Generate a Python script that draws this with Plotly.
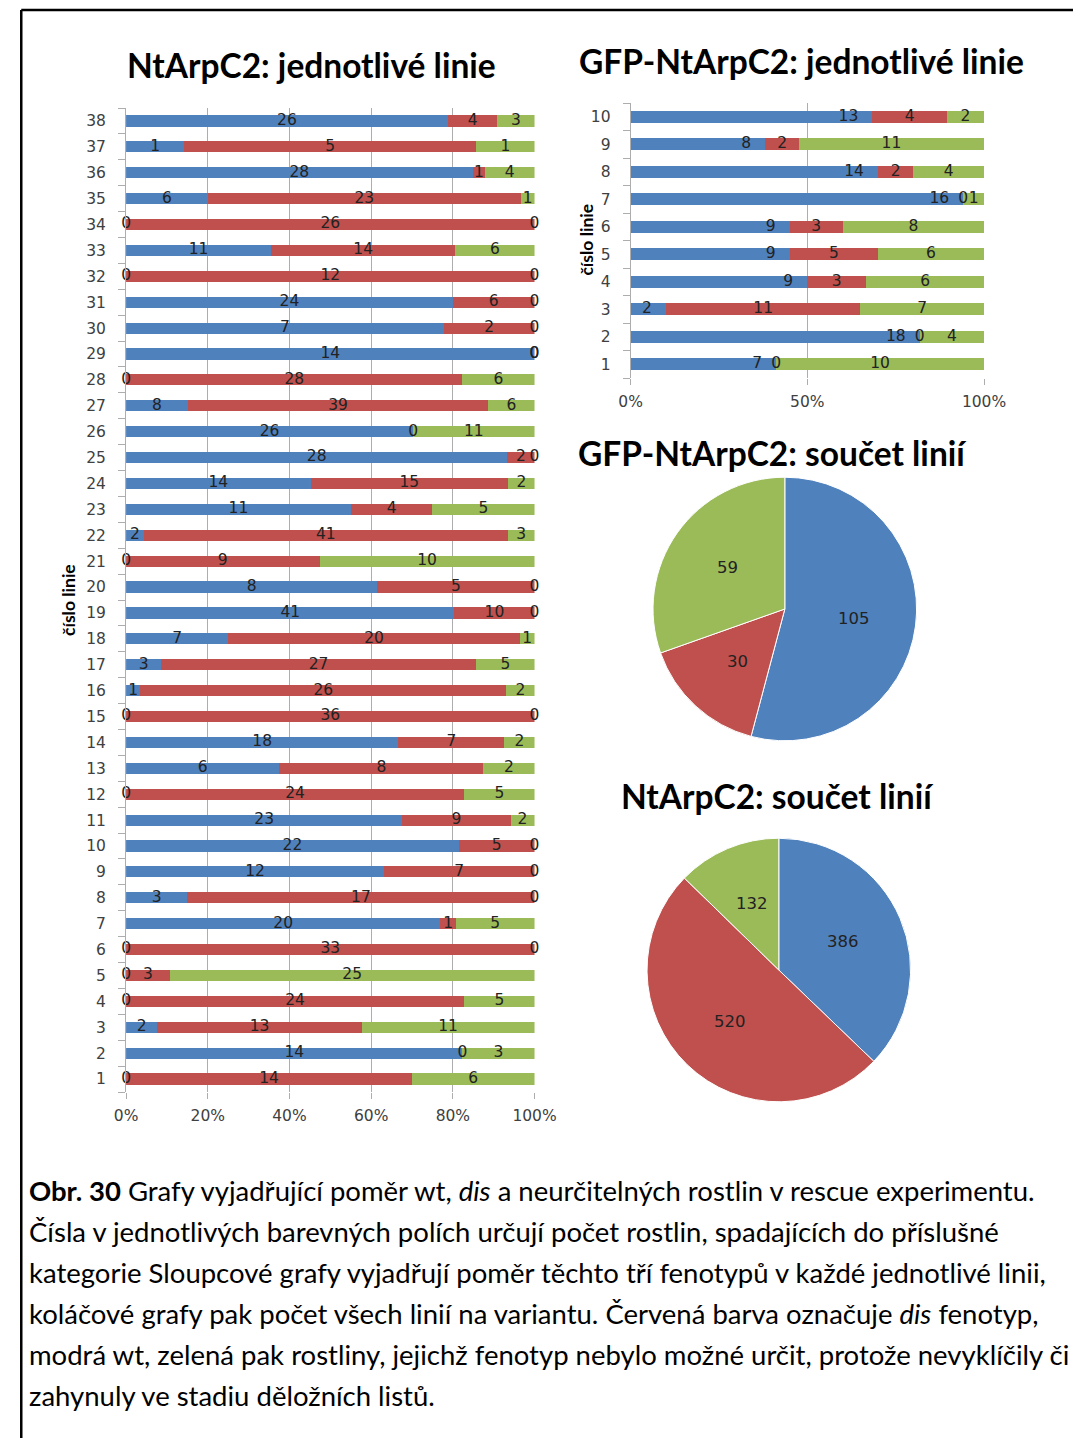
import plotly.graph_objects as go
import numpy as np

# Empirical mapping from page pixels to the photographed picture:
# picture_x = 12.3 + 0.968 * page_x ; picture_y ~ page_y ; body margin = 8.
SX, OXP, BODY = 0.968, 12.3, 8
W, H = 1100, 1436

BLUE = "#4F81BD"
RED = "#C0504D"
GREEN = "#9BBB59"
GRID = "#ADADAD"
TXT = "#222222"
TICK = "#404040"

# ---------------- data ----------------
nt_lines = [str(i) for i in range(1, 39)]
nt_wt = [0, 14, 2, 0, 0, 0, 20, 3, 12, 22, 23, 0, 6, 18, 0, 1, 3, 7, 41, 8,
         0, 2, 11, 14, 28, 26, 8, 0, 14, 7, 24, 0, 11, 0, 6, 28, 1, 26]
nt_dis = [14, 0, 13, 24, 3, 33, 1, 17, 7, 5, 9, 24, 8, 7, 36, 26, 27, 20, 10, 5,
          9, 41, 4, 15, 2, 0, 39, 28, 0, 2, 6, 12, 14, 26, 23, 1, 5, 4]
nt_und = [6, 3, 11, 5, 25, 0, 5, 0, 0, 0, 2, 5, 2, 2, 0, 2, 5, 1, 0, 0,
          10, 3, 5, 2, 0, 11, 6, 6, 0, 0, 0, 0, 6, 0, 1, 4, 1, 3]

gfp_lines = [str(i) for i in range(1, 11)]
gfp_wt = [7, 18, 2, 9, 9, 9, 16, 14, 8, 13]
gfp_dis = [0, 0, 11, 3, 5, 3, 0, 2, 2, 4]
gfp_und = [10, 4, 7, 6, 6, 8, 1, 4, 11, 2]

pie_labels = ["wt", "dis", "neurčitelné"]
gfp_pie = [105, 30, 59]
nt_pie = [386, 520, 132]

x_ticks_left = ["0%", "20%", "40%", "60%", "80%", "100%"]
x_ticks_right = ["0%", "50%", "100%"]

caption = [
    "<b>Obr. 30</b> Grafy vyjadřující poměr wt, <i>dis</i> a neurčitelných rostlin v rescue experimentu.",
    "Čísla v jednotlivých barevných polích určují počet rostlin, spadajících do příslušné",
    "kategorie Sloupcové grafy vyjadřují poměr těchto tří fenotypů v každé jednotlivé linii,",
    "koláčové grafy pak počet všech linií na variantu. Červená barva označuje <i>dis</i> fenotyp,",
    "modrá wt, zelená pak rostliny, jejichž fenotyp nebylo možné určit, protože nevyklíčily či",
    "zahynuly ve stadiu děložních listů.",
]


def fx(x):  # target picture x -> figure px
    return (x - OXP) / SX - BODY


def fy(y):  # target picture y -> figure px (from top)
    return y - BODY


def px(x):
    return fx(x) / W


def py(y):
    return 1 - fy(y) / H


def segs(a, b, c):
    a, b, c = (np.array(v, dtype=float) for v in (a, b, c))
    t = a + b + c
    sa, sb, sc = a / t * 100, b / t * 100, c / t * 100
    return [(0 * sa, sa), (sa, sa + sb), (sa + sb, sa + sb + sc)]


fig = go.Figure()

LBL_FONT = dict(family="DejaVu Sans", size=15.5, color=TXT)

# ---------------- left stacked bars ----------------
for vals, col in ((nt_wt, BLUE), (nt_dis, RED), (nt_und, GREEN)):
    fig.add_trace(go.Bar(y=nt_lines, x=vals, orientation="h", marker_color=col,
                         marker_line_width=0, xaxis="x", yaxis="y",
                         hoverinfo="skip", showlegend=False))
for (s, e), vals in zip(segs(nt_wt, nt_dis, nt_und), (nt_wt, nt_dis, nt_und)):
    fig.add_trace(go.Scatter(x=(s + e) / 2, y=nt_lines, mode="text",
                             text=[str(v) for v in vals], textfont=LBL_FONT,
                             textposition="middle center", cliponaxis=False,
                             xaxis="x", yaxis="y", hoverinfo="skip", showlegend=False))

# ---------------- right stacked bars ----------------
for vals, col in ((gfp_wt, BLUE), (gfp_dis, RED), (gfp_und, GREEN)):
    fig.add_trace(go.Bar(y=gfp_lines, x=vals, orientation="h", marker_color=col,
                         marker_line_width=0, xaxis="x2", yaxis="y2",
                         hoverinfo="skip", showlegend=False))
gs = segs(gfp_wt, gfp_dis, gfp_und)
# wt labels: inside end
fig.add_trace(go.Scatter(x=gs[0][1] - 4, y=gfp_lines, mode="text",
                         text=[str(v) for v in gfp_wt], textfont=LBL_FONT,
                         textposition="middle left", cliponaxis=False,
                         xaxis="x2", yaxis="y2", hoverinfo="skip", showlegend=False))
for (s, e), vals in zip(gs[1:], (gfp_dis, gfp_und)):
    fig.add_trace(go.Scatter(x=(s + e) / 2, y=gfp_lines, mode="text",
                             text=[str(v) for v in vals], textfont=LBL_FONT,
                             textposition="middle center", cliponaxis=False,
                             xaxis="x2", yaxis="y2", hoverinfo="skip", showlegend=False))

# ---------------- pies ----------------
R = 136
LR = 0.53  # label radius as a fraction of the pie radius
for vals, cx, cy in ((gfp_pie, 784, 609), (nt_pie, 778, 970)):
    cfx, cfy = fx(cx), fy(cy)
    fig.add_trace(go.Pie(values=vals, labels=pie_labels, sort=False,
                         direction="clockwise", rotation=0,
                         marker=dict(colors=[BLUE, RED, GREEN],
                                     line=dict(color="white", width=1)),
                         textinfo="none",
                         domain=dict(x=[(cfx - R) / W, (cfx + R) / W],
                                     y=[1 - (cfy + R) / H, 1 - (cfy - R) / H]),
                         hoverinfo="skip", showlegend=False))
    v = np.array(vals, dtype=float)
    mids = (np.cumsum(v) - v / 2) / v.sum() * 2 * np.pi  # clockwise from 12 o'clock
    for val, a in zip(vals, mids):
        lx = cfx + LR * R * np.sin(a)
        ly = cfy - LR * R * np.cos(a)
        fig.add_annotation(text=str(val), x=lx / W, y=1 - ly / H, xref="paper", yref="paper",
                           xanchor="center", yanchor="middle", showarrow=False,
                           font=dict(family="DejaVu Sans", size=16.5, color=TXT))

axis_font = dict(family="DejaVu Sans", size=15.5, color=TICK)

common_x = dict(range=[0, 100], showgrid=True, gridcolor=GRID, gridwidth=1,
                showline=False, ticks="outside",
                ticklen=6, tickcolor=GRID, tickfont=axis_font, zeroline=False,
                fixedrange=True, ticklabelstandoff=3)
common_y = dict(type="category", tickson="boundaries", ticks="outside", ticklen=7,
                tickcolor=GRID, showline=True, linecolor=GRID, linewidth=1,
                showgrid=False, tickfont=axis_font, fixedrange=True,
                ticklabelstandoff=16)

fig.update_layout(
    width=W, height=H, margin=dict(l=0, r=0, t=0, b=0),
    paper_bgcolor="white", plot_bgcolor="white",
    barmode="stack", barnorm="percent", bargap=0.57, showlegend=False,
    xaxis=dict(domain=[px(126), px(534)], anchor="y",
               tickvals=[0, 20, 40, 60, 80, 100], ticktext=x_ticks_left, **common_x),
    yaxis=dict(domain=[py(1092), py(108)], anchor="x", categoryorder="array",
               categoryarray=nt_lines, range=[-0.5, len(nt_lines) - 0.5], **common_y),
    xaxis2=dict(domain=[px(630), px(983)], anchor="y2",
                tickvals=[0, 50, 100], ticktext=x_ticks_right, **common_x),
    yaxis2=dict(domain=[py(378), py(103)], anchor="x2", categoryorder="array",
                categoryarray=gfp_lines, range=[-0.5, len(gfp_lines) - 0.5], **common_y),
)

TITLE_FONT = dict(family="Lato", size=33.5, color="black")
titles = [("NtArpC2: jednotlivé linie", 311, 65),
          ("GFP-NtArpC2: jednotlivé linie", 801, 61),
          ("GFP-NtArpC2: součet linií", 772, 453),
          ("NtArpC2: součet linií", 777, 796)]
for t, x, y in titles:
    fig.add_annotation(text=f"<b>{t}</b>", x=px(x), y=py(y), xref="paper", yref="paper",
                       xanchor="center", yanchor="middle", showarrow=False, font=TITLE_FONT)

for x, y in ((68, 600), (585, 240)):
    fig.add_annotation(text="<b>číslo linie</b>", x=px(x), y=py(y), xref="paper", yref="paper",
                       xanchor="center", yanchor="middle", showarrow=False, textangle=-90,
                       font=dict(family="Lato", size=17.5, color="black"))

for i, line in enumerate(caption):
    fig.add_annotation(text=line, x=px(27), y=py(1190 + 41 * i), xref="paper", yref="paper",
                       xanchor="left", yanchor="middle", showarrow=False,
                       font=dict(family="Lato", size=27.5, color="black"))

# frame (left and top edges)
left = max(fx(9), 1.3) / W
fig.add_shape(type="line", xref="paper", yref="paper", x0=left, x1=left, y0=0, y1=py(10),
              line=dict(color="black", width=2.5))
fig.add_shape(type="line", xref="paper", yref="paper", x0=left, x1=1, y0=py(10), y1=py(10),
              line=dict(color="black", width=2.5))

fig.write_html("out.html")
